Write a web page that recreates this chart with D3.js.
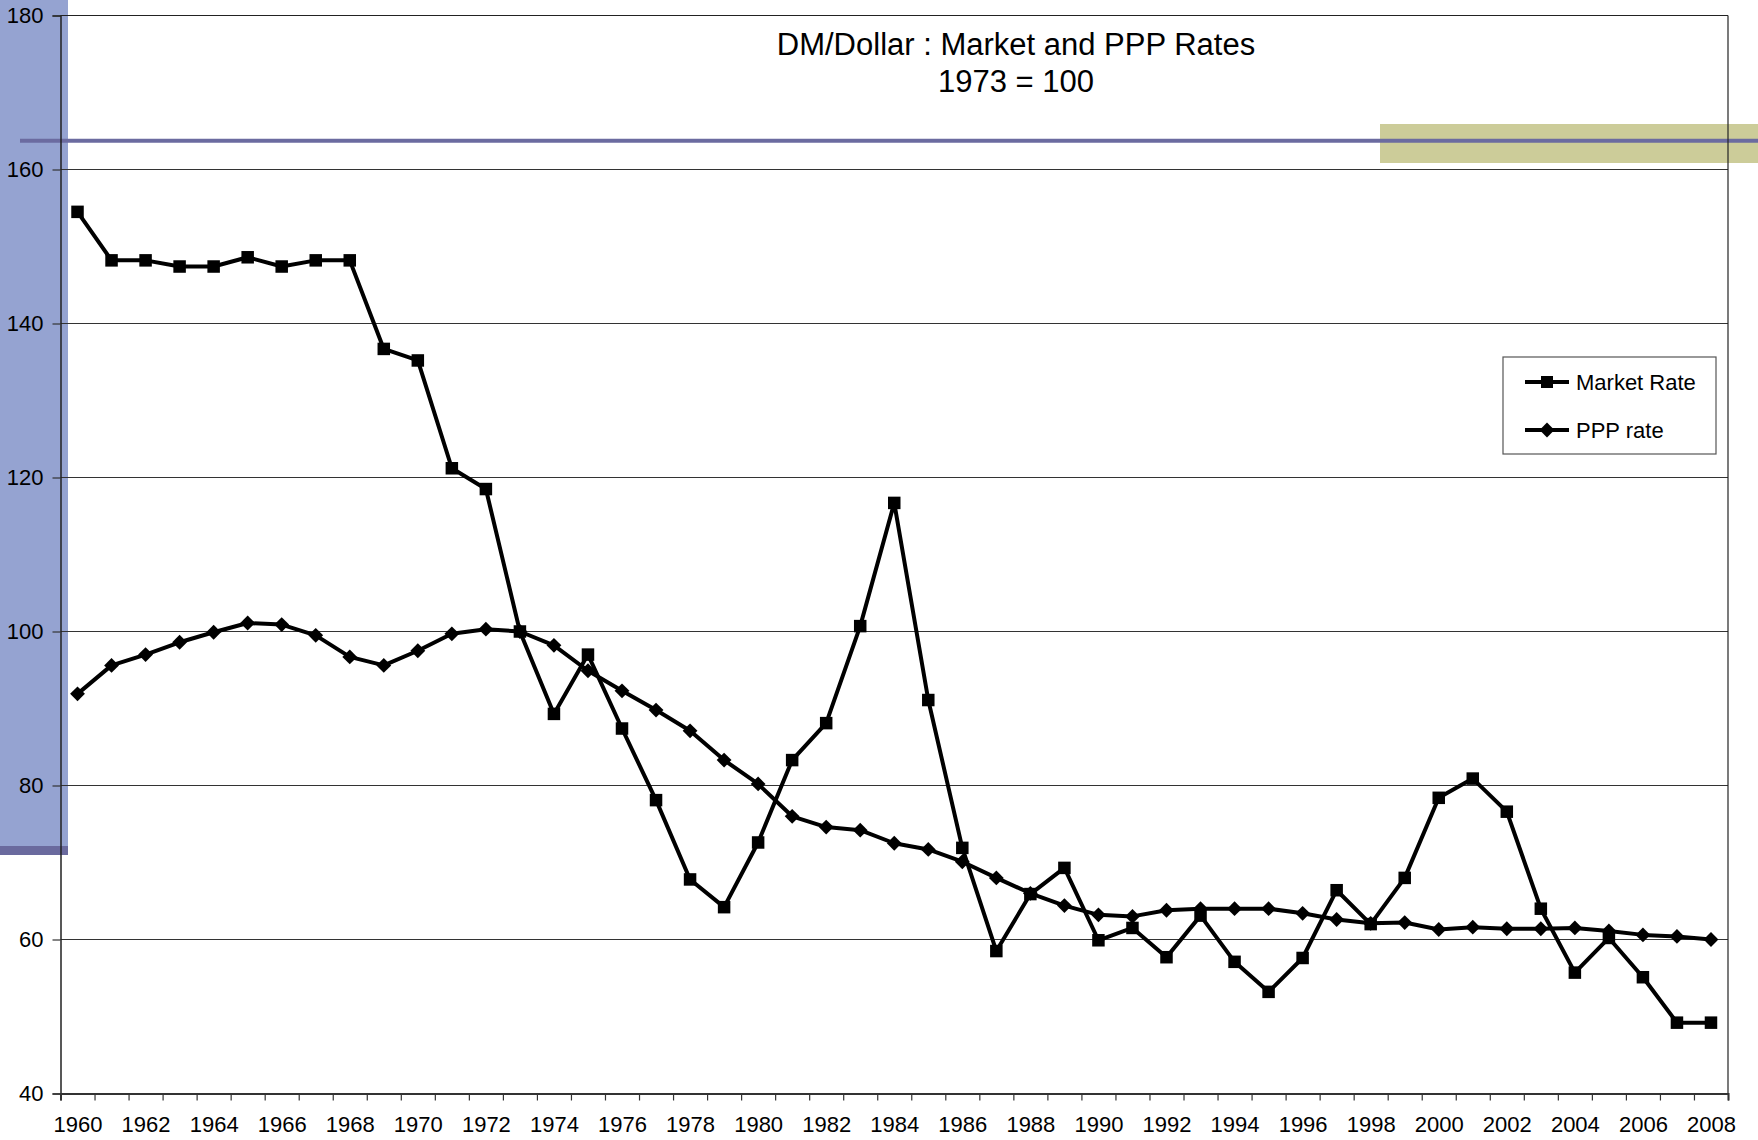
<!DOCTYPE html>
<html>
  <head>
    <title>DM/Dollar</title>
    <script src="https://cdn.jsdelivr.net/npm/d3@7"></script>
    <style>
      body { margin: 0; background: #fff; }
      text { font-family: "Liberation Sans", Arial, sans-serif; }
    </style>
  </head>
  <body>
    <svg width="1758" height="1140" id="mainsvg"></svg>
    <script>
      // years on the category axis
      const years = [1960,1961,1962,1963,1964,1965,1966,1967,1968,1969,
        1970,1971,1972,1973,1974,1975,1976,1977,1978,1979,
        1980,1981,1982,1983,1984,1985,1986,1987,1988,1989,
        1990,1991,1992,1993,1994,1995,1996,1997,1998,1999,
        2000,2001,2002,2003,2004,2005,2006,2007,2008];
      const marketRate = [154.5,148.2,148.2,147.4,147.4,148.6,147.4,148.2,148.2,136.7,
        135.2,121.2,118.5,100.0,89.3,97.0,87.4,78.1,67.8,64.2,
        72.6,83.3,88.1,100.7,116.7,91.1,71.9,58.5,65.9,69.3,
        59.9,61.5,57.7,63.1,57.1,53.2,57.6,66.4,62.0,68.0,
        78.4,80.9,76.6,64.0,55.7,60.2,55.1,49.2,49.2];
      const pppRate = [91.9,95.6,97.0,98.6,99.9,101.1,100.9,99.5,96.7,95.6,
        97.5,99.7,100.3,100.0,98.2,94.9,92.3,89.8,87.1,83.3,
        80.2,76.0,74.6,74.2,72.5,71.7,70.1,68.0,66.0,64.4,
        63.2,63.0,63.8,64.0,64.0,64.0,63.4,62.6,62.1,62.2,
        61.3,61.6,61.4,61.4,61.5,61.1,60.6,60.4,60.0];
      const yTicks = [40,60,80,100,120,140,160,180];
      const xLabels = years.filter(y => y % 2 === 0);
      const seriesNames = ['Market Rate', 'PPP rate'];
      const titleLines = ['DM/Dollar : Market and PPP Rates', '1973 = 100'];

      const svg = d3.select('#mainsvg');
      const plot = {left: 60.5, right: 1728, top: 15.5, bottom: 1093.5};

      // slide decoration behind the chart
      svg.append('rect').attr('x', 0).attr('y', 0).attr('width', 68).attr('height', 855)
        .attr('fill', '#95a3d1');
      svg.append('rect').attr('x', 0).attr('y', 846).attr('width', 68).attr('height', 9)
        .attr('fill', '#6a6a9e');

      const xScale = d3.scaleLinear()
        .domain([years[0] - 0.5, years[years.length - 1] + 0.5])
        .range([plot.left, plot.right]);
      const yScale = d3.scaleLinear()
        .domain([40, 180])
        .range([plot.bottom, plot.top]);

      // gridlines
      svg.append('g').selectAll('line').data(yTicks.slice(1)).join('line')
        .attr('x1', plot.left).attr('x2', plot.right)
        .attr('y1', d => yScale(d)).attr('y2', d => yScale(d))
        .attr('stroke', '#333').attr('stroke-width', 1.2);

      // olive highlight + purple rule (drawn under the plot border)
      svg.append('rect').attr('x', 1380).attr('y', 124).attr('width', 378).attr('height', 39)
        .attr('fill', '#cccc99');
      svg.append('line').attr('x1', 20).attr('x2', 1758).attr('y1', 140.7).attr('y2', 140.7)
        .attr('stroke', '#6b6ba0').attr('stroke-width', 4);

      // right border
      svg.append('line').attr('x1', plot.right).attr('x2', plot.right)
        .attr('y1', plot.top).attr('y2', plot.bottom)
        .attr('stroke', '#222').attr('stroke-width', 1.2);

      // y axis
      const yAxis = d3.axisLeft(yScale).tickValues(yTicks).tickSize(8).tickPadding(9);
      const yAxisGroup = svg.append('g').attr('transform', `translate(${plot.left},0)`).call(yAxis);
      yAxisGroup.select('.domain').attr('stroke', '#222').attr('stroke-width', 1.5);
      yAxisGroup.selectAll('.tick line').attr('stroke', '#333').attr('stroke-width', 1.2);
      yAxisGroup.selectAll('.tick text').attr('font-size', 22).attr('fill', '#000')
        .attr('font-family', '"Liberation Sans", Arial, sans-serif');

      // x axis: tick marks between categories, labels every second year
      const boundaries = years.map(y => y - 0.5).concat([years[years.length - 1] + 0.5]);
      const xTickAxis = d3.axisBottom(xScale).tickValues(boundaries).tickSize(7).tickFormat('');
      const xTickGroup = svg.append('g').attr('transform', `translate(0,${plot.bottom})`).call(xTickAxis);
      xTickGroup.select('.domain').attr('stroke', '#333').attr('stroke-width', 2);
      xTickGroup.selectAll('.tick line').attr('stroke', '#333').attr('stroke-width', 1.2);

      const xLabelAxis = d3.axisBottom(xScale).tickValues(xLabels).tickSize(0).tickPadding(23)
        .tickFormat(d3.format('d'));
      const xLabelGroup = svg.append('g').attr('transform', `translate(0,${plot.bottom})`).call(xLabelAxis);
      xLabelGroup.select('.domain').remove();
      xLabelGroup.selectAll('.tick text').attr('font-size', 22).attr('fill', '#000')
        .attr('font-family', '"Liberation Sans", Arial, sans-serif');

      // top border
      svg.append('line').attr('x1', plot.left).attr('x2', plot.right)
        .attr('y1', plot.top).attr('y2', plot.top)
        .attr('stroke', '#222').attr('stroke-width', 1.2);

      // series
      const line = d3.line().x((d, i) => xScale(years[i])).y(d => yScale(d));
      svg.append('path').datum(pppRate).attr('d', line)
        .attr('fill', 'none').attr('stroke', '#000').attr('stroke-width', 4).attr('stroke-linejoin', 'round');
      svg.append('path').datum(marketRate).attr('d', line)
        .attr('fill', 'none').attr('stroke', '#000').attr('stroke-width', 4).attr('stroke-linejoin', 'round');

      const diamond = d3.symbol().type(d3.symbolDiamond2).size(140);
      svg.append('g').selectAll('path').data(pppRate).join('path')
        .attr('d', diamond)
        .attr('transform', (d, i) => `translate(${xScale(years[i])},${yScale(d)})`)
        .attr('fill', '#000');
      const sq = 12.5;
      svg.append('g').selectAll('rect').data(marketRate).join('rect')
        .attr('x', (d, i) => xScale(years[i]) - sq / 2).attr('y', d => yScale(d) - sq / 2)
        .attr('width', sq).attr('height', sq).attr('fill', '#000');

      // title
      svg.append('g').selectAll('text').data(titleLines).join('text')
        .attr('x', 1016).attr('y', (d, i) => 55 + i * 37)
        .attr('text-anchor', 'middle').attr('font-size', 31).attr('fill', '#000')
        .text(d => d);

      // legend
      const legend = svg.append('g').attr('transform', 'translate(1503,357)');
      legend.append('rect').attr('width', 213).attr('height', 97)
        .attr('fill', '#fff').attr('stroke', '#555').attr('stroke-width', 1.2);
      const item = legend.selectAll('g').data(seriesNames).join('g')
        .attr('transform', (d, i) => `translate(0,${25 + i * 48})`);
      item.append('line').attr('x1', 22).attr('x2', 66).attr('stroke', '#000').attr('stroke-width', 4);
      item.filter((d, i) => i === 0).append('rect')
        .attr('x', 38).attr('y', -6).attr('width', 12).attr('height', 12).attr('fill', '#000');
      item.filter((d, i) => i === 1).append('path')
        .attr('d', diamond).attr('transform', 'translate(44,0)').attr('fill', '#000');
      item.append('text').attr('x', 73).attr('y', 8).attr('font-size', 22).attr('fill', '#000')
        .text(d => d);
    </script>
  </body>
</html>
